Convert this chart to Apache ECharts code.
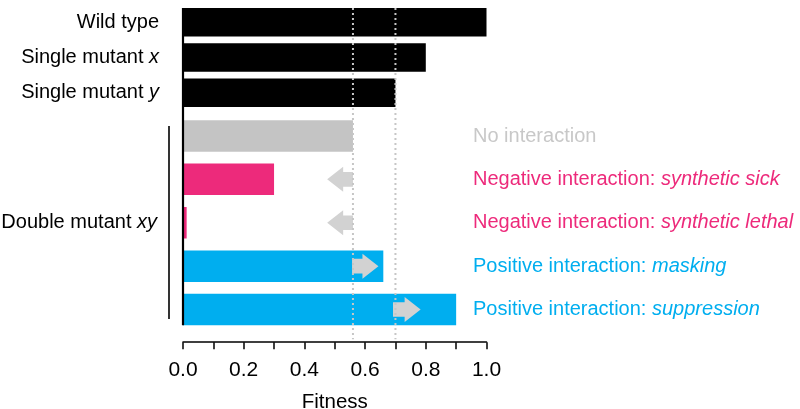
<!DOCTYPE html>
<html><head><meta charset="utf-8">
<script src="https://cdn.jsdelivr.net/npm/echarts@6/dist/echarts.min.js"></script>
<style>html,body{margin:0;padding:0;background:#fff}#c{width:800px;height:409px}</style>
</head><body><div id="c"></div>
<script>
// ---- data ----
const singleCategories = ['Wild type', 'Single mutant x', 'Single mutant y'];
const singleItalic = ['', 'x', 'y'];
const singleFitness = [1.0, 0.80, 0.70];

const doubleCategories = ['No interaction', 'Synthetic sick', 'Synthetic lethal', 'Masking', 'Suppression'];
const doubleFitness = [0.56, 0.30, 0.012, 0.66, 0.90];
const doubleKind = ['none', 'neg', 'neg', 'pos', 'pos'];
const doubleGroupLabel = 'Double mutant ';
const doubleGroupItalic = 'xy';

const annotationPlain = ['No interaction', 'Negative interaction: ', 'Negative interaction: ', 'Positive interaction: ', 'Positive interaction: '];
const annotationItalic = ['', 'synthetic sick', 'synthetic lethal', 'masking', 'suppression'];

const arrowFrom = [null, 0.56, 0.56, 0.557, 0.692];
const arrowTo   = [null, 0.475, 0.475, 0.644, 0.783];

const expectedLines = [0.56, 0.70];
const xMin = 0, xMax = 1, xInterval = 0.2;
const xName = 'Fitness';

// ---- styles ----
const FONT = "'Liberation Sans', Arial, Helvetica, sans-serif";
const FS = 20;
const kindColor = { none: '#c4c4c4', neg: '#ed2a7b', pos: '#00aeef' };
const kindText = { none: '#c8c8c8', neg: '#ed2a7b', pos: '#00aeef' };
const arrowColor = '#d2d2d2';
const dotColor = '#c6c6c6';
const barWA = 28.5, barWB = 31.5;

const chart = echarts.init(document.getElementById('c'), null, { renderer: 'canvas' });

const richA = { i: { fontStyle: 'italic', fontSize: FS, fontFamily: FONT, color: '#000' } };
const richB = {};
Object.keys(kindText).forEach(k => {
  richB[k] = { color: kindText[k], fontSize: 20, fontFamily: FONT };
  richB[k + 'I'] = { color: kindText[k], fontSize: 20, fontFamily: FONT, fontStyle: 'italic' };
});

const arrowData = arrowFrom.map((f, i) => f == null ? null : [f, arrowTo[i], i]).filter(Boolean);

const option = {
  animation: false,
  backgroundColor: '#fff',
  grid: [
    { left: 183, right: 313.5, top: 4.5, height: 105.9, containLabel: false, outerBoundsMode: 'none' },
    { left: 183, right: 313.5, top: 114.3, height: 216.9, containLabel: false, outerBoundsMode: 'none' }
  ],
  xAxis: [
    { gridIndex: 0, type: 'value', min: xMin, max: xMax, show: false, splitLine: { show: false } },
    {
      gridIndex: 1, type: 'value', min: xMin, max: xMax, interval: xInterval, offset: 11,
      name: xName, nameLocation: 'middle', nameGap: 50,
      nameTextStyle: { fontSize: 20.5, fontFamily: FONT, color: '#000' },
      axisLine: { show: true, lineStyle: { color: '#000', width: 1.5 } },
      axisTick: { show: true, inside: false, length: 7, lineStyle: { color: '#000', width: 1.5 } },
      minorTick: { show: true, splitNumber: 2, length: 7, lineStyle: { color: '#000', width: 1.5 } },
      splitLine: { show: false }, minorSplitLine: { show: false },
      axisLabel: { fontSize: 21, fontFamily: FONT, color: '#000', margin: 18, formatter: v => v.toFixed(1) }
    }
  ],
  yAxis: [
    {
      gridIndex: 0, type: 'category', inverse: true, data: singleCategories,
      axisLine: { show: false }, axisTick: { show: false },
      axisLabel: {
        fontSize: FS, fontFamily: FONT, color: '#000', margin: 24, rich: richA,
        formatter: (v, i) => singleItalic[i] ? v.slice(0, v.length - singleItalic[i].length) + '{i|' + singleItalic[i] + '}' : v
      }
    },
    {
      gridIndex: 1, type: 'category', inverse: true, data: doubleCategories,
      axisLine: { show: false }, axisTick: { show: false },
      axisLabel: {
        fontSize: FS, fontFamily: FONT, color: '#000', margin: 26, rich: richA, interval: 0,
        formatter: (v, i) => i === Math.floor(doubleCategories.length / 2) ? doubleGroupLabel + '{i|' + doubleGroupItalic + '}' : ''
      }
    },
    {
      gridIndex: 1, type: 'category', inverse: true, position: 'right', data: doubleCategories,
      axisLine: { show: false }, axisTick: { show: false },
      axisLabel: {
        fontSize: 20, fontFamily: FONT, margin: -13.5, align: 'left', rich: richB, interval: 0,
        formatter: (v, i) => '{' + doubleKind[i] + '|' + annotationPlain[i] + '}' +
          (annotationItalic[i] ? '{' + doubleKind[i] + 'I|' + annotationItalic[i] + '}' : '')
      }
    }
  ],
  series: [
    {
      type: 'bar', xAxisIndex: 0, yAxisIndex: 0, data: singleFitness, barWidth: barWA,
      itemStyle: { color: '#000' }, silent: true
    },
    {
      type: 'bar', xAxisIndex: 1, yAxisIndex: 1, barWidth: barWB, silent: true,
      data: doubleFitness.map((v, i) => ({ value: v, itemStyle: { color: kindColor[doubleKind[i]] } }))
    },
    {
      type: 'custom', xAxisIndex: 1, yAxisIndex: 1, data: arrowData, silent: true, z: 5,
      encode: { x: [0, 1], y: 2 },
      renderItem: (params, api) => {
        const from = api.value(0), to = api.value(1), row = api.value(2);
        const p0 = api.coord([from, row]), p1 = api.coord([to, row]);
        const dir = p1[0] > p0[0] ? 1 : -1;
        const head = 16, hh = 12.5, bh = 7.3, y = p0[1];
        const hb = p1[0] - dir * head;
        return {
          type: 'polygon',
          shape: { points: [[p0[0], y - bh], [hb, y - bh], [hb, y - hh], [p1[0], y], [hb, y + hh], [hb, y + bh], [p0[0], y + bh]] },
          style: { fill: arrowColor }
        };
      }
    }
  ]
};
chart.setOption(option);

// decorations placed through the axes' own scales
const x0 = chart.convertToPixel({ xAxisIndex: 0 }, 0);
const yTop = chart.convertToPixel({ yAxisIndex: 0 }, 0) - barWA / 2;
const lastIdx = doubleCategories.length - 1;
const yBFirst = chart.convertToPixel({ yAxisIndex: 1 }, 0);
const yBLast = chart.convertToPixel({ yAxisIndex: 1 }, lastIdx);
const yBot = yBLast + barWB / 2;
const graphics = [
  { type: 'line', z: 100, silent: true, shape: { x1: x0, y1: yTop, x2: x0, y2: yBot }, style: { stroke: '#000', lineWidth: 2.2 } },
  { type: 'line', z: 100, silent: true, shape: { x1: x0 - 14, y1: yBFirst - 10, x2: x0 - 14, y2: yBLast + 9.5 }, style: { stroke: '#000', lineWidth: 1.6 } }
];
expectedLines.forEach(v => {
  const x = chart.convertToPixel({ xAxisIndex: 1 }, v);
  graphics.push({ type: 'line', z: 100, silent: true, shape: { x1: x, y1: yTop, x2: x, y2: yBot + 14 },
    style: { stroke: dotColor, lineWidth: 2, lineDash: [2, 3] } });
});
chart.setOption({ graphic: graphics });
</script>
</body></html>
